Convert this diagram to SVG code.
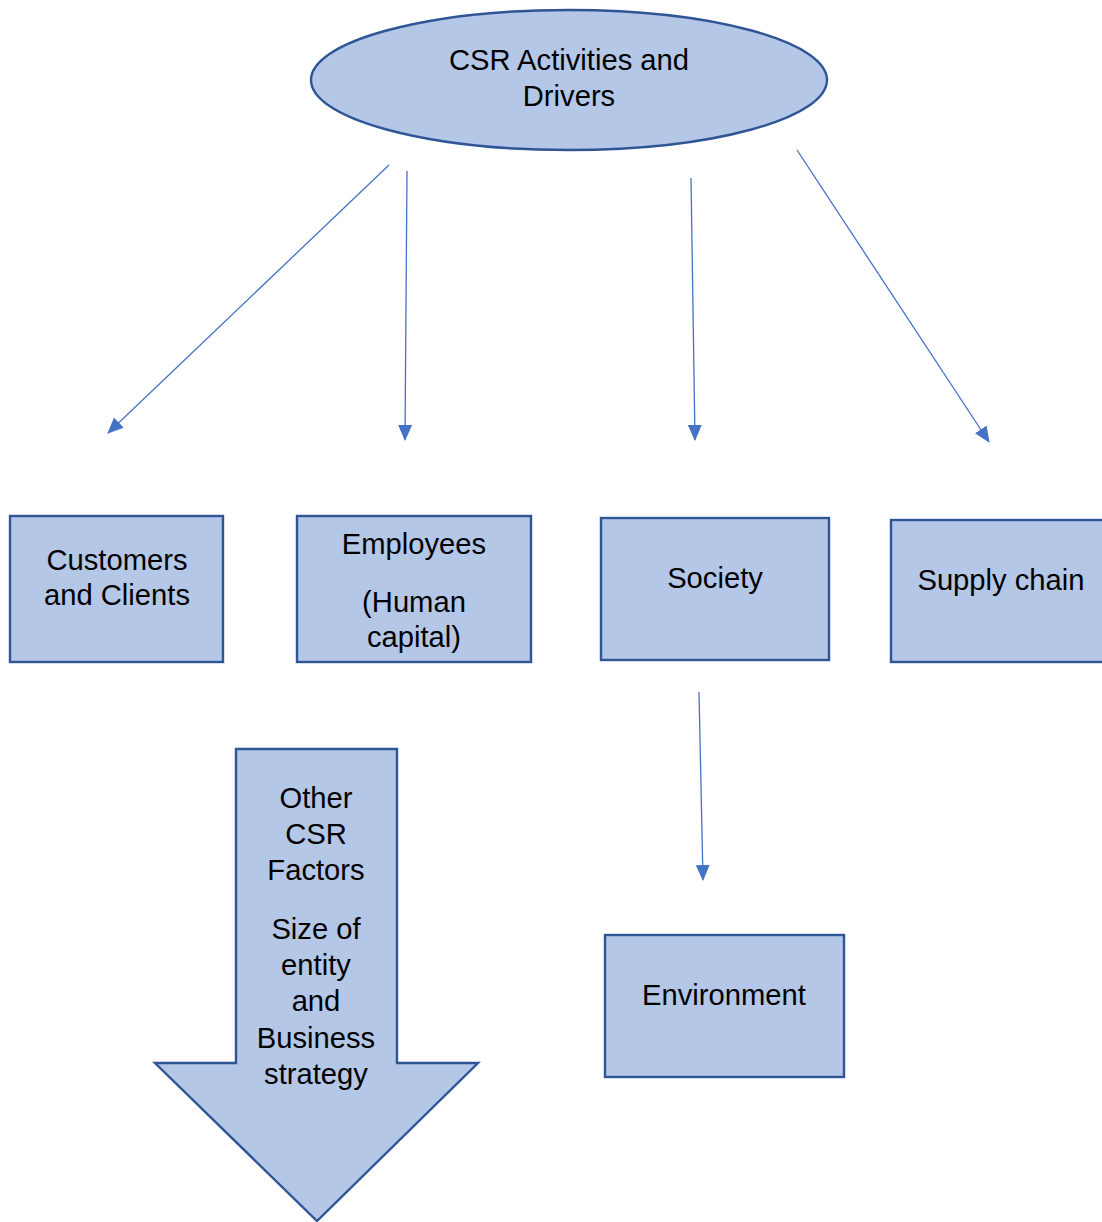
<svg xmlns="http://www.w3.org/2000/svg" width="1102" height="1222" viewBox="0 0 1102 1222">
  <style>
    .shape { fill: #b4c7e7; stroke: #2f5597; stroke-width: 2.4; }
    .label { font-family: "Liberation Sans", Arial, sans-serif; font-size: 29.2px; fill: #000; text-anchor: middle; }
    .link { stroke: #4472c4; stroke-width: 1.3; fill: none; marker-end: url(#head); }
  </style>
  <defs>
    <marker id="head" viewBox="0 0 16 14" refX="15" refY="7" markerWidth="16" markerHeight="14" markerUnits="userSpaceOnUse" orient="auto">
      <path d="M0,0 L16,7 L0,14 Z" fill="#4472c4"/>
    </marker>
  </defs>
  <rect width="1102" height="1222" fill="#ffffff"/>

  <g id="csr-activities">
    <ellipse class="shape" cx="569" cy="80" rx="258" ry="70"/>
    <text class="label" x="569" y="70">CSR Activities and</text>
    <text class="label" x="569" y="106">Drivers</text>
  </g>

  <g id="customers">
    <rect class="shape" x="10" y="516" width="213" height="146"/>
    <text class="label" x="117" y="570">Customers</text>
    <text class="label" x="117" y="605">and Clients</text>
  </g>

  <g id="employees">
    <rect class="shape" x="297" y="516" width="234" height="146"/>
    <text class="label" x="414" y="554">Employees</text>
    <text class="label" x="414" y="612">(Human</text>
    <text class="label" x="414" y="647">capital)</text>
  </g>

  <g id="society">
    <rect class="shape" x="601" y="518" width="228" height="142"/>
    <text class="label" x="715" y="588">Society</text>
  </g>

  <g id="supply-chain">
    <rect class="shape" x="891" y="520" width="230" height="142"/>
    <text class="label" x="1001" y="590">Supply chain</text>
  </g>

  <g id="environment">
    <rect class="shape" x="605" y="935" width="239" height="142"/>
    <text class="label" x="724" y="1005">Environment</text>
  </g>

  <g id="other-factors">
    <path class="shape" d="M236,749 L397,749 L397,1063 L478,1063 L317,1221 L155,1063 L236,1063 Z"/>
    <text class="label" x="316" y="808">Other</text>
    <text class="label" x="316" y="844">CSR</text>
    <text class="label" x="316" y="880">Factors</text>
    <text class="label" x="316" y="939">Size of</text>
    <text class="label" x="316" y="975">entity</text>
    <text class="label" x="316" y="1011">and</text>
    <text class="label" x="316" y="1048">Business</text>
    <text class="label" x="316" y="1084">strategy</text>
  </g>

  <g id="connectors">
    <line class="link" x1="389" y1="165" x2="108" y2="433"/>
    <line class="link" x1="407" y1="171" x2="405" y2="440"/>
    <line class="link" x1="691" y1="178" x2="695" y2="440"/>
    <line class="link" x1="797" y1="150" x2="989" y2="442"/>
    <line class="link" x1="699" y1="692" x2="703" y2="880"/>
  </g>
</svg>
